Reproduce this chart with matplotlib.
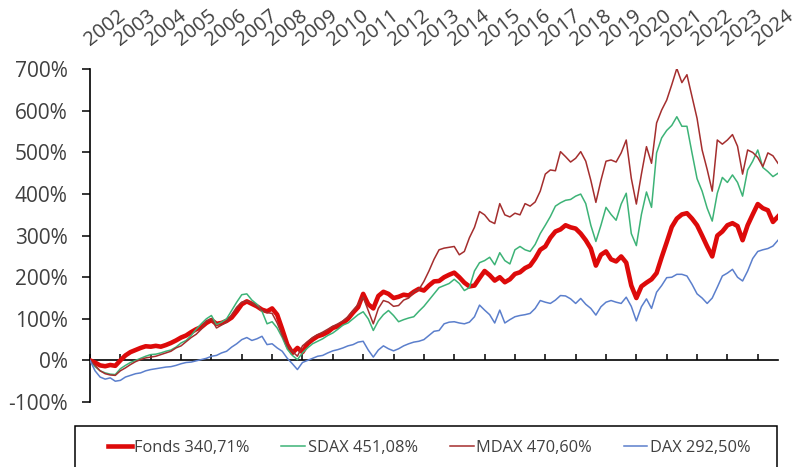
import matplotlib
matplotlib.use('Agg')
import matplotlib.pyplot as plt
import numpy as np
from matplotlib.patches import Rectangle

plt.rcParams['font.family'] = ['Open Sans', 'DejaVu Sans']

years = ['2002', '2003', '2004', '2005', '2006', '2007', '2008', '2009', '2010',
         '2011', '2012', '2013', '2014', '2015', '2016', '2017', '2018', '2019',
         '2020', '2021', '2022', '2023', '2024']

labels = ['Fonds 340,71%', 'SDAX 451,08%', 'MDAX 470,60%', 'DAX 292,50%']

# bimonthly readings, one row per year (%)
fonds = [
    0, -5, -12, -14, -11, -13,
    0, 12, 20, 25, 30, 34,
    33, 35, 33, 37, 42, 48,
    55, 60, 68, 75, 80, 90,
    97, 88, 90, 95, 103, 118,
    135, 142, 136, 130, 122, 118,
    125, 110, 75, 38, 18, 30,
    20, 40, 50, 58, 62, 68,
    78, 82, 90, 100, 115, 128,
    160, 135, 125, 155, 165, 160,
    150, 153, 158, 156, 165, 172,
    168, 180, 190, 191, 200, 206,
    211, 200, 187, 178, 180, 198,
    215, 205, 192, 200, 188, 195,
    208, 212, 222, 228, 245, 266,
    274, 295, 310, 315, 325, 320,
    317, 305, 289, 269, 228, 254,
    262, 243, 238, 250, 235, 180,
    150, 178, 187, 195, 210, 248,
    284, 321, 341, 351, 354, 341,
    325, 300, 274, 250, 300, 310,
    325, 330, 323, 289, 325, 351,
    376, 366, 361, 333, 346,
]

sdax = [
    0, -15, -25, -30, -33, -34,
    -20, -12, -5, 0, 5, 10,
    14, 15, 18, 22, 25, 32,
    42, 48, 60, 75, 88, 100,
    108, 86, 92, 100, 120, 140,
    158, 160, 145, 135, 118, 88,
    93, 78, 55, 27, 12, 2,
    18, 30, 40, 46, 52, 60,
    66, 75, 85, 90, 100, 110,
    117, 100, 72, 95, 110, 120,
    108, 93, 98, 102, 105, 118,
    130, 145, 160, 175, 180, 185,
    195, 185, 168, 175, 215, 235,
    240, 248, 230, 259, 240, 232,
    266, 274, 266, 262, 279, 305,
    325, 346, 371, 379, 385, 387,
    395, 400, 377, 325, 286, 325,
    368, 351, 337, 376, 402, 305,
    276, 351, 405, 368, 499, 535,
    553, 565, 586, 563, 563, 499,
    437, 407, 366, 335, 402, 440,
    428, 446, 428, 395, 458, 479,
    506, 464, 454, 442, 450,
]

mdax = [
    0, -12, -25, -32, -35, -36,
    -25, -18, -10, -3, 2, 6,
    8, 10, 14, 18, 22, 30,
    35, 45, 55, 63, 75, 95,
    100, 78, 85, 92, 110, 128,
    140, 143, 138, 130, 121, 115,
    113, 90, 60, 35, 22, 10,
    35, 45, 55, 62, 68, 75,
    82, 88, 95, 105, 120, 135,
    152, 120, 88, 125, 144, 140,
    130, 132, 145, 150, 165, 170,
    190, 215, 243, 266, 270, 272,
    274, 254, 262, 295, 320, 358,
    350, 335, 329, 377, 350, 345,
    354, 350, 377, 371, 381, 407,
    448, 458, 456, 502, 490, 477,
    486, 502, 479, 433, 380, 433,
    479, 482, 477, 499, 530, 438,
    376, 448, 514, 474, 571, 602,
    626, 663, 702, 668, 687, 635,
    582, 506, 459, 407, 530, 520,
    530, 543, 515, 448, 506, 500,
    488, 466, 499, 492, 474,
]

dax = [
    0, -25, -40, -45, -42, -50,
    -48, -40, -36, -32, -30, -25,
    -22, -20, -18, -16, -15, -12,
    -8, -5, -4, -1, 2, 5,
    10, 12, 18, 22, 32, 40,
    50, 55, 48, 52, 58, 38,
    40, 30, 22, 5, -8, -22,
    -5, 0, 5, 10, 12, 18,
    23, 26, 30, 35, 38, 44,
    46, 25, 8, 25, 35, 28,
    23, 28, 35, 40, 44, 46,
    50, 60, 70, 72, 88, 92,
    93, 90, 88, 92, 105, 133,
    121, 110, 90, 121, 90, 98,
    105, 108, 110, 113, 125, 144,
    140, 137, 145, 156, 155, 148,
    137, 149, 135, 125, 109, 129,
    140, 144, 140, 137, 152, 130,
    95, 129, 148, 125, 164, 180,
    199, 200, 207, 207, 203, 183,
    160, 150, 137, 150, 176, 203,
    210, 219, 200, 191, 215, 245,
    262, 266, 269, 275, 289,
]

W, H = 798, 467
fig = plt.figure(figsize=(W / 100, H / 100), dpi=100)
ax = fig.add_axes([90 / W, (H - 402) / H, 688 / W, (402 - 69.3) / H])

n = len(fonds)
x = np.arange(n)
text_color = '#404040'

l1, = ax.plot(x, fonds, color='#DD0A0A', lw=3.3, label=labels[0], solid_joinstyle='round', zorder=3)
l2, = ax.plot(x, sdax, color='#3DB377', lw=1.1, label=labels[1], zorder=3)
l3, = ax.plot(x, mdax, color='#A42E2E', lw=1.1, label=labels[2], zorder=3)
l4, = ax.plot(x, dax, color='#5B7FCC', lw=1.1, label=labels[3], zorder=3)

ax.set_xlim(0, n - 1)
ax.set_ylim(-100, 700)
yt = list(range(-100, 701, 100))
ax.set_yticks(yt)
ax.set_yticklabels([f'{v}%' for v in yt])

for s in ['top', 'right']:
    ax.spines[s].set_visible(False)
ax.spines['bottom'].set_position(('data', 0))
ax.spines['bottom'].set_linewidth(1.2)
ax.spines['left'].set_linewidth(1.2)
ax.spines['bottom'].set_zorder(2)

ax.tick_params(axis='y', direction='out', length=6, width=1.1, pad=10,
               labelsize=15, labelcolor=text_color)
xt = np.arange(0, n, 6)
ax.set_xticks(xt)
ax.tick_params(axis='x', direction='in', length=4.5, width=1.1, labelbottom=False)

for pos, lab in zip(xt, years):
    ax.text(pos, 1.07, lab, transform=ax.get_xaxis_transform(), rotation=38,
            rotation_mode='anchor', ha='left', va='baseline', fontsize=14.5,
            color=text_color)

fig.legend(handles=[l1, l2, l3, l4], labels=labels, loc='center left',
           bbox_to_anchor=(93 / W, 1 - 448 / H), ncol=4, frameon=False,
           fontsize=11.8, handlelength=1.45, handletextpad=0.15,
           columnspacing=1.95, labelcolor=text_color)

fig.patches.append(Rectangle((75 / W, -0.05), (777 - 75) / W, (H - 425.7) / H + 0.05,
                             transform=fig.transFigure, fill=False, ec='black', lw=1.1))

fig.savefig('out.png', dpi=100)
